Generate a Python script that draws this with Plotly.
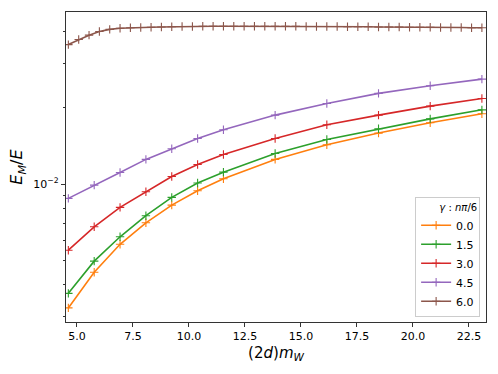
import numpy as np
import plotly.graph_objects as go

# x grid of the four lower curves and of the dense gamma=6 curve
x_coarse = [4.615, 5.769, 6.923, 8.077, 9.231, 10.385, 11.538,
            13.846, 16.154, 18.462, 20.769, 23.077]
x_fine = [k * 0.46154 for k in range(10, 51)]

gammas = ["0.0", "1.5", "3.0", "4.5", "6.0"]
colors = ["#ff7f0e", "#2ca02c", "#d62728", "#9467bd", "#8c564b"]

em_0 = [0.00324, 0.00448, 0.00578, 0.00703, 0.00826, 0.00941, 0.01050,
        0.01252, 0.01430, 0.01591, 0.01747, 0.01896]
em_15 = [0.00370, 0.00496, 0.00619, 0.00750, 0.00886, 0.01010, 0.01115,
         0.01322, 0.01501, 0.01654, 0.01811, 0.01966]
em_3 = [0.00548, 0.00678, 0.00809, 0.00933, 0.01072, 0.01196, 0.01310,
        0.01515, 0.01716, 0.01874, 0.02034, 0.02181]
em_45 = [0.00878, 0.00991, 0.01112, 0.01252, 0.01379, 0.01515, 0.01640,
         0.01874, 0.02084, 0.02283, 0.02447, 0.02600]
em_6 = [0.0356, 0.0373, 0.0388, 0.0401, 0.0409, 0.0413, 0.0415, 0.0416,
        0.0417, 0.0418, 0.0419, 0.0420, 0.0420, 0.0421, 0.0421, 0.0421,
        0.0421, 0.0421, 0.0421, 0.0421, 0.0421, 0.0421, 0.0421, 0.0420,
        0.0420, 0.0420, 0.0420, 0.0419, 0.0419, 0.0419, 0.0418, 0.0418,
        0.0418, 0.0417, 0.0417, 0.0417, 0.0416, 0.0416, 0.0416, 0.0415,
        0.0415]

series = [(x_coarse, em_0), (x_coarse, em_15), (x_coarse, em_3),
          (x_coarse, em_45), (x_fine, em_6)]

fig = go.Figure()
for (xs, ys), g, c in zip(series, gammas, colors):
    fig.add_trace(go.Scatter(
        x=xs, y=ys, name=g, mode="lines+markers",
        line=dict(color=c, width=1.6),
        marker=dict(symbol="cross-thin", size=6, color=c,
                    line=dict(width=1.1, color=c)),
    ))

minor_y = [m * 10.0**e for e in (-3, -2) for m in range(2, 10)]

fig.update_layout(
    width=498, height=374,
    margin=dict(l=66, r=12, t=12, b=52),
    paper_bgcolor="white", plot_bgcolor="white",
    font=dict(family="DejaVu Sans", size=11, color="black"),
    showlegend=True,
    legend=dict(
        x=0.986, y=0.017, xanchor="right", yanchor="bottom",
        bgcolor="rgba(255,255,255,0.8)", bordercolor="#cccccc", borderwidth=1,
        font=dict(size=11),
        title=dict(text="<i>γ</i> : <i>nπ</i>/6", side="top right",
                   font=dict(size=10)),
        itemwidth=30,
    ),
)
fig.update_xaxes(
    range=[4.51, 23.26], tickmode="linear", tick0=5, dtick=2.5,
    tickformat=".1f", ticks="outside", ticklen=4, tickcolor="#333",
    showline=True, linecolor="#333", linewidth=1.2, mirror=True,
    showgrid=False, zeroline=False,
    title=dict(text="(2<i>d</i>)<i>m</i><sub><i>W</i></sub>",
               font=dict(size=15), standoff=5),
)
fig.update_yaxes(
    type="log", range=[np.log10(0.00285), np.log10(0.0479)],
    tickmode="array", tickvals=[0.01], ticktext=["10<sup>−2</sup>"],
    ticks="outside", ticklen=4, tickcolor="#333",
    minor=dict(tickmode="array", tickvals=minor_y, ticks="outside",
               ticklen=2, tickcolor="#333"),
    showline=True, linecolor="#333", linewidth=1.2, mirror=True,
    showgrid=False, zeroline=False,
    title=dict(text="<i>E</i><sub><i>M</i></sub>/<i>E</i>",
               font=dict(size=16), standoff=6),
)

# page body has an 8px default margin; drop it so the figure sits at 0,0
fig.write_html("out.html", config={"displayModeBar": False},
               post_script="document.body.style.margin='0';")
